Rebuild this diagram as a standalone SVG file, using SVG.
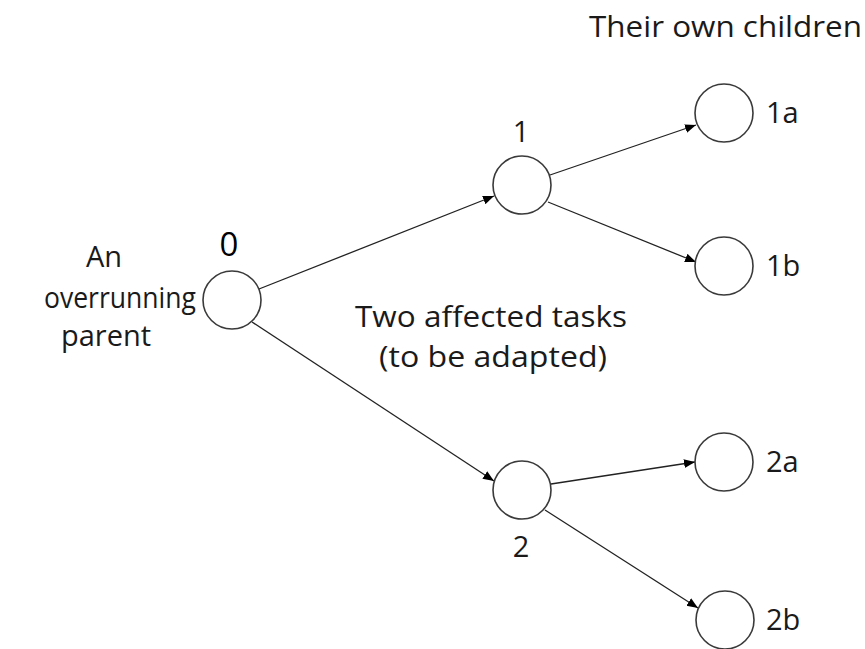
<svg xmlns="http://www.w3.org/2000/svg" width="865" height="649" viewBox="0 0 865 649">
<style>
.node{fill:#fff;stroke:#3a3a3a;stroke-width:1.6}
.edge{stroke:#222;stroke-width:1.3;fill:none;marker-end:url(#arr)}
text{font-family:"Open Sans","Liberation Sans",sans-serif;font-size:29px;fill:#1a1a1a}
.c{text-anchor:middle}
.big{font-size:33px;fill:#000}
</style>
<defs>
<marker id="arr" viewBox="0 0 10 10" refX="10" refY="5" markerWidth="11" markerHeight="11" markerUnits="userSpaceOnUse" orient="auto">
<path d="M0,1 L10,5 L0,9 Z" fill="#000"/>
</marker>
</defs>
<rect width="865" height="649" fill="#fff"/>
<g id="connectors">
<line class="edge" x1="259" y1="289" x2="494" y2="196"/>
<line class="edge" x1="252" y1="322" x2="494" y2="481"/>
<line class="edge" x1="550" y1="175" x2="696" y2="125"/>
<line class="edge" x1="548" y1="202" x2="696" y2="262"/>
<line class="edge" x1="551" y1="484" x2="695" y2="462"/>
<line class="edge" x1="545" y1="510" x2="698" y2="608"/>
</g>
<g id="n0"><circle class="node" cx="232" cy="300" r="29"/><text class="c big" x="229" y="256">0</text></g>
<g id="n1"><circle class="node" cx="522" cy="185" r="29"/><text class="c" x="521" y="142">1</text></g>
<g id="n2"><circle class="node" cx="522" cy="490" r="29"/><text class="c" x="521" y="557">2</text></g>
<g id="n1a"><circle class="node" cx="724" cy="113" r="29"/><text x="766" y="123">1a</text></g>
<g id="n1b"><circle class="node" cx="724" cy="266" r="29"/><text x="766" y="276">1b</text></g>
<g id="n2a"><circle class="node" cx="724" cy="462" r="29"/><text x="766" y="472">2a</text></g>
<g id="n2b"><circle class="node" cx="725" cy="620" r="29"/><text x="766" y="630">2b</text></g>
<g id="lbl-parent"><text class="c" x="104" y="267">An</text><text x="44" y="308" textLength="152" lengthAdjust="spacingAndGlyphs">overrunning</text><text class="c" x="106" y="346">parent</text></g>
<g id="lbl-affected"><text x="355" y="327" textLength="272" lengthAdjust="spacingAndGlyphs">Two affected tasks</text><text x="379" y="367" textLength="228" lengthAdjust="spacingAndGlyphs">(to be adapted)</text></g>
<g id="lbl-children"><text x="589" y="37" textLength="273" lengthAdjust="spacingAndGlyphs">Their own children</text></g>
</svg>
